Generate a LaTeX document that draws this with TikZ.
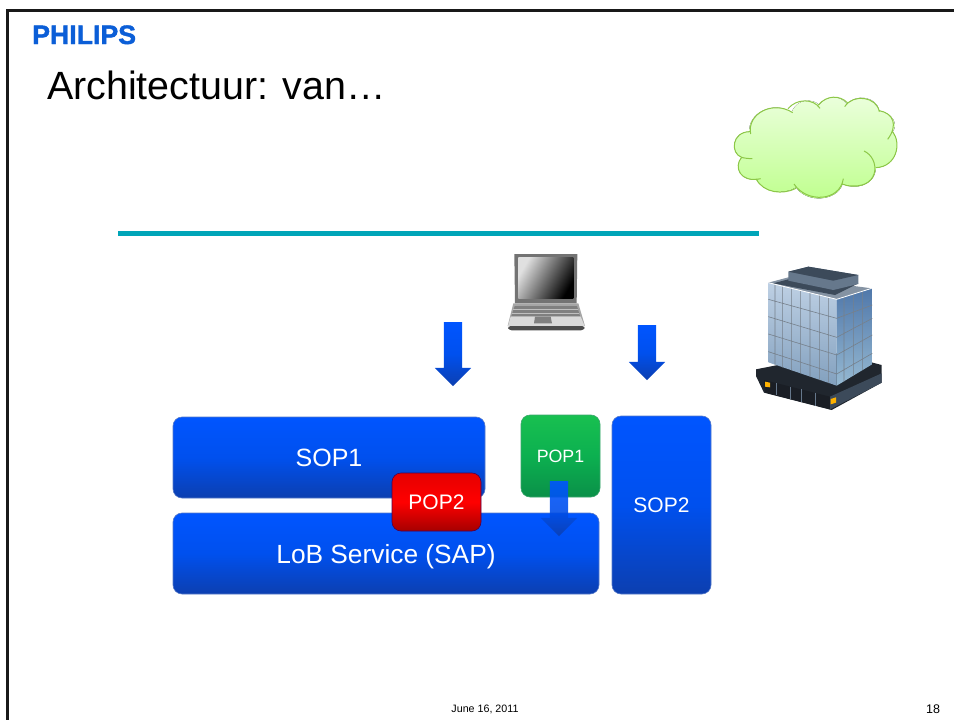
\documentclass[tikz,border=0pt]{standalone}
\usepackage{fontspec}
\setmainfont{Liberation Sans}
\newfontfamily\logofont[FakeBold=1.5]{Liberation Sans}
\usetikzlibrary{shapes.arrows}
\definecolor{boxtop}{HTML}{0055FF}
\definecolor{boxmid}{HTML}{0050EE}
\definecolor{boxlow}{HTML}{0C3FB0}
\definecolor{greentop}{HTML}{18C050}
\definecolor{greenmid}{HTML}{0CB050}
\definecolor{greenlow}{HTML}{0A9048}
\definecolor{slatetop}{HTML}{3C4A5A}
\definecolor{slatemid}{HTML}{66788C}
\definecolor{slatelow}{HTML}{20262E}
\tikzstyle{label} = [inner sep=0pt, anchor=base west]
\tikzstyle{box} = [rectangle, rounded corners=9pt, text centered, text=white, inner sep=0pt]
\tikzstyle{sop} = [box, draw=boxlow!70!white, line width=0.6pt, top color=boxtop, bottom color=boxlow, middle color=boxmid]
\tikzstyle{popg} = [box, draw=greenlow!80!white, line width=0.6pt, top color=greentop, bottom color=greenlow, middle color=greenmid]
\tikzstyle{popr} = [box, draw=red!50!blue!60!black, line width=0.6pt, top color=red!90!black, bottom color=red!65!black, middle color=red]
\tikzstyle{down} = [single arrow, shape border rotate=270, inner sep=9pt, minimum width=36pt, single arrow head extend=9pt, single arrow tip angle=90, top color=boxtop, bottom color=boxlow, middle color=boxmid]
\tikzstyle{rule} = [line width=5pt, color={rgb,255:red,0;green,165;blue,184}]
\tikzstyle{frame} = [line width=3pt, color=black!90]
\tikzstyle{grid} = [line width=0.6pt, color=slatetop!70!white]
\begin{document}
\begin{tikzpicture}[x=1pt,y=-1pt]
  \useasboundingbox (0,0) rectangle (954,720);
  \draw[frame] (7.5,720) -- (7.5,10.5) -- (954,10.5);

  \node[label, font=\fontsize{26.7}{30}\logofont\selectfont\bfseries, text={rgb,255:red,11;green,94;blue,215}] (logo) at (32,44) {PHILIPS};
  \node[label, font=\fontsize{39.4}{44}\selectfont] (title) at (47,99) {Architectuur: van…};
  \draw[rule] (118,233.5) -- (759,233.5);

  % cloud
  \begin{scope}[shift={(720,80)},scale=1/3]
    \fill[top color={rgb,255:red,236;green,255;blue,222}, bottom color={rgb,255:red,190;green,255;blue,140}]
      (88,160) .. controls (80,100) and (160,60) .. (215,97) .. controls (230,55) and (280,55) .. (298,75)
      .. controls (320,45) and (360,45) .. (380,72) .. controls (410,40) and (470,50) .. (478,92)
      .. controls (520,100) and (535,135) .. (518,155) .. controls (545,190) and (530,260) .. (468,263)
      .. controls (465,320) and (400,330) .. (368,312) .. controls (350,365) and (260,370) .. (228,322)
      .. controls (190,345) and (130,340) .. (110,298) .. controls (60,305) and (40,260) .. (65,232)
      .. controls (30,220) and (35,155) .. (88,155) -- cycle;
    \draw[line width=1pt, color={rgb,255:red,140;green,200;blue,70}]
      (92,162) .. controls (80,100) and (160,60) .. (218,98)
      (204,86) .. controls (230,55) and (280,55) .. (300,85)
      (295,75) .. controls (320,45) and (360,45) .. (382,68)
      (374,80) .. controls (400,40) and (470,50) .. (478,95)
      (478,92) .. controls (520,100) and (535,135) .. (503,178)
      (518,155) .. controls (545,190) and (530,260) .. (468,263)
      (432,213) .. controls (480,235) and (480,320) .. (400,318) .. controls (385,318) and (375,316) .. (366,312)
      (370,296) .. controls (360,365) and (260,370) .. (222,312)
      (228,325) .. controls (190,345) and (130,340) .. (108,296)
      (122,296) .. controls (60,310) and (40,260) .. (65,232) .. controls (70,234) and (85,236) .. (97,236)
      (65,232) .. controls (30,220) and (35,155) .. (90,155);
  \end{scope}

  % laptop
  \begin{scope}[shift={(420,220)},scale=1/3]
    \fill[color=black!55] (283,102) -- (472,102) -- (470,250) -- (285,250) -- cycle;
    \shade[left color=black!12, right color=black, shading angle=60] (295,112) -- (460,112) -- (460,235) -- (295,235) -- cycle;
    \fill[color=black!35] (280,250) -- (475,250) -- (495,318) -- (263,318) -- cycle;
    \fill[color=black!50] (284,258) -- (471,258) -- (480,288) -- (274,288) -- cycle;
    \draw[line width=0.3pt, color=black!25] (280,268) -- (474,268) (277,278) -- (477,278);
    \fill[color=black!15] (272,290) -- (482,290) -- (494,318) -- (264,318) -- cycle;
    \fill[color=black!50] (345,290) -- (392,290) -- (396,310) -- (342,310) -- cycle;
    \fill[color=black!70, rounded corners=3pt] (263,318) -- (495,318) -- (492,331) -- (266,331) -- cycle;
  \end{scope}

  % building
  \begin{scope}[shift={(480,240)},scale=1/3]
    \fill[color=slatelow] (828,388) -- (1070,340) -- (1205,375) -- (1205,428) -- (1055,510) -- (852,458) -- (828,408) -- cycle;
    \fill[color=slatemid!80!white] (865,128) -- (925,112) -- (1175,145) -- (1070,178) -- cycle;
    \fill[color=slatetop] (880,130) -- (925,118) -- (1135,130) -- (1065,165) -- cycle;
    \fill[color=slatemid] (925,95) -- (985,80) -- (1135,105) -- (1135,132) -- (1060,150) -- (925,122) -- cycle;
    \fill[color=slatetop] (925,95) -- (985,80) -- (1135,105) -- (1060,122) -- cycle;
    \shade[top color={rgb,255:red,190;green,208;blue,228}, bottom color={rgb,255:red,130;green,160;blue,190}] (865,128) -- (1070,178) -- (1070,437) -- (865,367) -- cycle;
    \shade[top color={rgb,255:red,80;green,120;blue,170}, bottom color={rgb,255:red,150;green,185;blue,210}] (1070,178) -- (1176,145) -- (1178,372) -- (1070,437) -- cycle;
    \draw[grid] (885,133) -- (885,374) (908,139) -- (908,382) (935,145) -- (935,391) (962,152) -- (962,400) (990,159) -- (990,410) (1018,165) -- (1018,420) (1045,172) -- (1045,429)
      (865,178) -- (1070,235) (865,230) -- (1070,292) (865,282) -- (1070,345) (865,335) -- (1070,402)
      (1092,171) -- (1092,424) (1120,162) -- (1120,407) (1148,154) -- (1148,390)
      (1070,235) -- (1177,195) (1070,292) -- (1177,235) (1070,345) -- (1177,285) (1070,402) -- (1177,340);
    \draw[line width=0.8pt, color=white] (865,128) -- (1070,178) -- (1175,145);
    \fill[color=slatelow!80!black] (852,420) -- (1050,470) -- (1050,508) -- (856,458) -- cycle;
    \fill[color=slatetop] (1050,470) -- (1205,400) -- (1205,428) -- (1050,508) -- cycle;
    \draw[line width=0.5pt, color=slatemid] (890,430) -- (890,466) (930,440) -- (930,476) (965,448) -- (965,486) (1005,458) -- (1005,497);
    \fill[color=orange!60!yellow] (855,425) -- (870,428) -- (870,442) -- (855,440) -- cycle;
    \fill[color=orange!60!yellow] (1052,477) -- (1068,472) -- (1068,488) -- (1052,493) -- cycle;
  \end{scope}

  % blocks
  \node[sop, minimum width=312pt, minimum height=81pt, font=\fontsize{25}{30}\selectfont] (sop1) at (329,457.5) {SOP1};
  \node[sop, minimum width=426pt, minimum height=81pt, font=\fontsize{26.3}{30}\selectfont] (lob) at (386,553.5) {\raisebox{-9.5pt}[0pt][0pt]{LoB Service (SAP)}};
  \node[popg, minimum width=79pt, minimum height=82pt, font=\fontsize{17.8}{20}\selectfont] (pop1) at (560.5,456) {POP1};
  \node[popr, minimum width=89pt, minimum height=58pt, font=\fontsize{21}{24}\selectfont] (pop2) at (436.5,502) {POP2};
  \node[sop, minimum width=99pt, minimum height=178pt, font=\fontsize{21}{24}\selectfont] (sop2) at (661.5,505) {SOP2};

  \node[down, minimum height=64pt] (arrowa) at (453,349.5) {};
  \node[down, minimum height=55pt] (arrowb) at (647,348) {};
  \node[down, minimum height=55pt, opacity=0.9] (arrowc) at (559,504) {};

  \node[font=\fontsize{10.7}{12}\selectfont, inner sep=0pt] (date) at (485,709) {June 16, 2011};
  \node[font=\fontsize{12.5}{14}\selectfont, inner sep=0pt] (page) at (933,709) {18};
\end{tikzpicture}
\end{document}
